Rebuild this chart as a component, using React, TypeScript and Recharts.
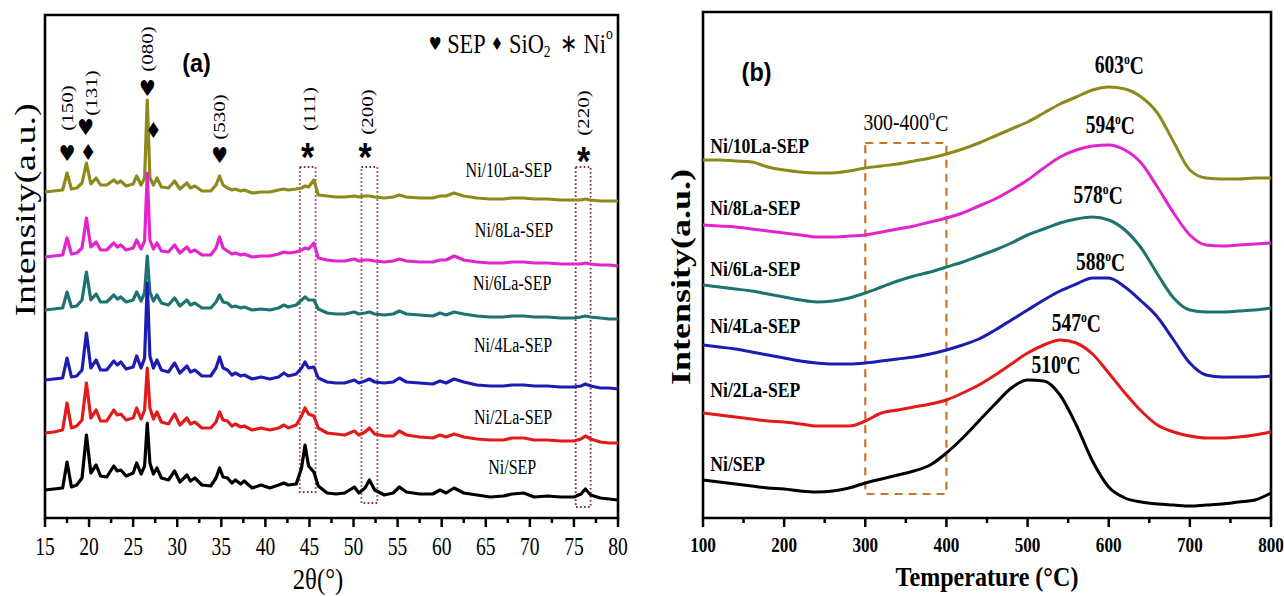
import React from 'react';
import { LineChart, Line, XAxis, YAxis, ReferenceArea, ReferenceDot } from 'recharts';

// ---------- Panel (a): XRD ----------
const twoTheta = [15, 16, 17, 17.5, 18, 18.6, 19.2, 19.7, 20.2, 20.8, 21.3, 22, 22.8, 23.2, 23.6, 24.2, 25, 25.4, 25.9, 26.3, 26.6, 26.9, 27.3, 27.7, 28.2, 29, 29.7, 30.3, 31.1, 31.5, 32, 32.8, 33.8, 34.4, 34.8, 35.2, 35.7, 36.2, 36.6, 37.2, 37.6, 38.5, 39.5, 40.5, 41.5, 42.1, 42.6, 43.5, 44.1, 44.5, 44.9, 45.5, 46, 47, 48, 49, 50.1, 50.6, 51.3, 51.8, 52.4, 53.5, 54.5, 55.2, 56, 57.5, 59, 59.8, 60.5, 61.4, 62.5, 64, 65.5, 67, 68, 69.3, 70.5, 72, 73.5, 75, 75.8, 76.3, 76.9, 78, 79, 80];

const xrdNi10La = [326, 327, 328, 345, 329, 330, 335, 355, 334, 340, 333, 333, 338, 335, 337, 332, 334, 342, 333, 340, 418, 340, 333, 340, 331, 330, 337, 329, 335, 330, 332, 327, 327, 333, 342, 333, 330, 328, 329, 327, 328, 325, 326, 326, 328, 329, 328, 329, 330, 332, 331, 338, 323, 322, 321, 321, 322, 321, 322, 322, 321, 320, 321, 323, 321, 320, 320, 322, 322, 325, 322, 320, 319, 319, 320, 320, 319, 319, 318, 318, 318, 319, 318, 317, 317, 317];
const xrdNi8La = [261, 262, 263, 280, 264, 265, 270, 300, 271, 276, 268, 268, 275, 271, 273, 268, 270, 278, 269, 277, 345, 278, 269, 275, 267, 266, 273, 265, 271, 266, 268, 263, 263, 270, 281, 270, 267, 264, 265, 263, 264, 261, 262, 262, 264, 266, 265, 266, 268, 270, 269, 275, 260, 258, 257, 257, 259, 257, 258, 258, 257, 256, 257, 259, 257, 256, 256, 258, 258, 262, 258, 256, 255, 255, 256, 256, 255, 255, 254, 254, 254, 255, 254, 253, 253, 252];
const xrdNi6La = [208, 209, 210, 226, 211, 212, 218, 246, 218, 224, 216, 216, 223, 219, 221, 216, 218, 226, 217, 225, 262, 226, 217, 223, 215, 213, 220, 212, 218, 213, 215, 210, 210, 216, 223, 216, 215, 211, 212, 210, 211, 208, 209, 208, 210, 213, 211, 213, 218, 221, 218, 218, 209, 205, 204, 204, 206, 204, 205, 206, 204, 203, 204, 207, 204, 203, 202, 205, 203, 206, 204, 202, 201, 201, 202, 202, 201, 201, 200, 200, 201, 202, 201, 200, 199, 199];
const xrdNi4La = [138, 139, 140, 160, 141, 142, 148, 185, 150, 158, 148, 148, 157, 153, 156, 149, 151, 162, 150, 160, 235, 162, 150, 158, 148, 146, 155, 145, 152, 146, 148, 142, 142, 150, 161, 150, 148, 143, 145, 142, 143, 139, 141, 139, 141, 145, 142, 144, 150, 156, 150, 151, 140, 136, 135, 135, 138, 135, 137, 139, 136, 135, 136, 140, 136, 135, 134, 137, 135, 139, 136, 133, 132, 132, 133, 133, 132, 132, 131, 131, 132, 134, 132, 130, 130, 129];
const xrdNi2La = [85, 86, 88, 115, 90, 92, 98, 135, 100, 108, 97, 97, 108, 103, 104, 98, 100, 110, 99, 108, 150, 110, 99, 106, 96, 94, 104, 93, 100, 94, 96, 90, 90, 96, 106, 98, 97, 92, 94, 91, 92, 88, 90, 88, 90, 93, 90, 93, 102, 110, 104, 102, 90, 85, 84, 83, 87, 83, 86, 90, 84, 82, 82, 87, 83, 81, 80, 83, 81, 84, 81, 79, 78, 78, 80, 80, 78, 78, 77, 77, 79, 82, 79, 76, 75, 75];
const xrdNiSEP = [28, 29, 30, 56, 31, 33, 40, 83, 45, 53, 42, 41, 52, 47, 48, 42, 45, 55, 44, 52, 95, 55, 44, 50, 40, 38, 47, 36, 43, 37, 40, 33, 32, 40, 50, 41, 40, 35, 38, 34, 37, 30, 33, 30, 33, 35, 33, 34, 50, 73, 52, 46, 32, 25, 24, 25, 31, 25, 30, 38, 28, 23, 25, 31, 26, 24, 24, 28, 25, 30, 25, 23, 21, 22, 24, 25, 21, 22, 21, 21, 24, 29, 23, 20, 19, 18];

const majorTicksA = [15, 20, 25, 30, 35, 40, 45, 50, 55, 60, 65, 70, 75, 80];
const minorTicksA = [17.5, 22.5, 27.5, 32.5, 37.5, 42.5, 47.5, 52.5, 57.5, 62.5, 67.5, 72.5, 77.5];

const sampleNames = ['Ni/10La-SEP', 'Ni/8La-SEP', 'Ni/6La-SEP', 'Ni/4La-SEP', 'Ni/2La-SEP', 'Ni/SEP'];

// label anchors for panel (a) [2θ, intensity]
const xrdNameX = [67.6, 68.2, 68.0, 68.1, 68.1, 68.0];
const xrdNameY = [348, 288, 235, 173, 101, 51];
const hklLabels = ['(150)', '(131)', '(080)', '(530)', '(111)', '(200)', '(220)'];
const hklX = [17.5, 20.2, 26.6, 34.8, 45.0, 51.6, 76.1];
const hklY = [410, 425, 469, 401, 409, 406, 405];
const markSymbols = ['♥', '♥', '♦', '♥', '♦', '♥', '*', '*', '*'];
const markX = [17.5, 19.6, 19.9, 26.6, 27.3, 34.8, 44.8, 51.3, 76.1];
const markY = [365, 391, 366, 430, 388, 363, 370, 370, 366];
// dotted boxes around Ni peaks
const niBoxX1 = [43.9, 50.9, 75.2];
const niBoxX2 = [45.7, 52.7, 76.9];
const niBoxYLow = [26, 15, 11];
const niBoxYTop = 351;

// ---------- Panel (b): H2-TPR ----------
const temperature = [100, 120, 140, 160, 180, 200, 220, 240, 260, 280, 300, 320, 340, 360, 380, 400, 420, 440, 460, 480, 500, 520, 540, 560, 580, 600, 620, 640, 660, 680, 700, 720, 740, 760, 780, 800];
const tprNi10La = [358, 358, 357, 356, 351, 348, 346, 345, 345, 347, 350, 352, 354, 357, 360, 364, 369, 375, 382, 389, 396, 405, 414, 421, 428, 431, 429, 421, 405, 376, 348, 340, 339, 339, 340, 340];
const tprNi8La = [293, 292, 291, 289, 287, 285, 283, 281, 281, 282, 283, 286, 289, 292, 296, 300, 305, 312, 319, 328, 338, 350, 361, 368, 372, 373, 368, 355, 331, 305, 283, 273, 272, 273, 274, 275];
const tprNi6La = [233, 231, 229, 227, 224, 221, 218, 216, 217, 220, 225, 231, 237, 242, 246, 251, 256, 262, 268, 275, 283, 289, 295, 299, 301, 298, 288, 270, 244, 220, 208, 206, 206, 207, 208, 210];
const tprNi4La = [173, 171, 169, 166, 163, 160, 157, 155, 154, 154, 155, 157, 159, 161, 164, 168, 173, 179, 188, 198, 208, 218, 227, 234, 240, 240, 231, 217, 201, 178, 155, 143, 141, 141, 141, 142];
const tprNi2La = [105, 103, 101, 99, 97, 96, 94, 92, 92, 92, 97, 105, 108, 111, 114, 118, 125, 133, 143, 154, 165, 173, 178, 175, 164, 145, 125, 107, 93, 86, 82, 80, 80, 81, 83, 86];
const tprNiSEP = [38, 36, 34, 32, 30, 29, 27, 26, 27, 30, 35, 39, 43, 47, 53, 65, 80, 97, 114, 130, 138, 137, 123, 93, 57, 31, 20, 16, 14, 13, 12, 13, 14, 16, 18, 25];

const majorTicksB = [100, 200, 300, 400, 500, 600, 700, 800];
const minorTicksB = [150, 250, 350, 450, 550, 650, 750];

const peakTempLabels = ['603', '594', '578', '588', '547', '510'];
const peakLabelX = [613, 602, 587, 590, 560, 535];
const peakLabelY = [453, 393, 323, 256, 195, 153];
const tprNameX = 109;
const tprNameY = [373, 311, 250, 193, 129, 55];

const colors = ['#8d8a1d', '#e224cd', '#1f7272', '#1c1cb2', '#e31a1c', '#000000'];
const keysA = ['a', 'b', 'c', 'd', 'e', 'f'];

const SERIF = '"Liberation Serif", "Times New Roman", serif';
const SANS = '"Liberation Sans", Arial, sans-serif';
const SYM = '"DejaVu Sans", sans-serif';

function SText(props: any) {
  const { x, y, size, weight = 'normal', family = SERIF, anchor = 'middle', rotate = false, sx = 0.8, fill = '#000', children } = props;
  const t = `translate(${x},${y}) scale(${sx},1)` + (rotate ? ' rotate(-90)' : '');
  return (
    <text transform={t} x={0} y={0} fontSize={size} fontWeight={weight} fontFamily={family} textAnchor={anchor} dominantBaseline="central" fill={fill}>
      {children}
    </text>
  );
}

function makeTick(majors: number[], labelDy: number, size: number, weight: string, sx: number) {
  return (props: any) => {
    const { x, y, payload } = props;
    const v = payload.value;
    const isMajor = majors.indexOf(v) >= 0;
    return (
      <g>
        <line x1={x} x2={x} y1={y} y2={y + (isMajor ? 9 : 5)} stroke="#000" strokeWidth={2.5} />
        {isMajor && (
          <SText x={x} y={y + labelDy} size={size} weight={weight} sx={sx}>{v}</SText>
        )}
      </g>
    );
  };
}

function dotText(x: number, y: number, key: string, render: (cx: number, cy: number) => any) {
  return (
    <ReferenceDot key={key} x={x} y={y} r={0} ifOverflow="visible" shape={(p: any) => render(p.cx, p.cy)} />
  );
}

export default function App() {
  const xrdRows = twoTheta.map((t, i) => ({
    t, a: xrdNi10La[i], b: xrdNi8La[i], c: xrdNi6La[i], d: xrdNi4La[i], e: xrdNi2La[i], f: xrdNiSEP[i],
  }));
  const tprRows = temperature.map((t, i) => ({
    t, a: tprNi10La[i], b: tprNi8La[i], c: tprNi6La[i], d: tprNi4La[i], e: tprNi2La[i], f: tprNiSEP[i],
  }));

  return (
    <div style={{ position: 'absolute', left: 0, top: 0, width: 1284, height: 596, background: '#fff' }}>
      <div style={{ position: 'absolute', left: 0, top: 0 }}>
        <LineChart width={650} height={596} data={xrdRows} margin={{ top: 15, right: 32, bottom: 0, left: 0 }}>
          <XAxis
            dataKey="t" type="number" domain={[15, 80]} ticks={[...majorTicksA, ...minorTicksA].sort((p, q) => p - q)}
            interval={0} height={78} tickSize={0} tickMargin={0} tickLine={false} axisLine={false}
            tick={makeTick(majorTicksA, 29, 26, 'normal', 0.75)}
            label={{
              content: (p: any) => (
                <SText x={p.viewBox.x + 273} y={p.viewBox.y + 61} size={29} sx={0.85}>2θ(°)</SText>
              ),
            }}
          />
          <YAxis
            type="number" domain={[0, 503]} width={45} tick={false} tickLine={false} axisLine={false}
            label={{
              content: (p: any) => (
                <SText x={p.viewBox.x + p.viewBox.width - 20} y={p.viewBox.y + 195} size={38} sx={0.75} rotate>Intensity(a.u.)</SText>
              ),
            }}
          />
          {niBoxX1.map((x1, i) => (
            <ReferenceArea key={'box' + i} x1={x1} x2={niBoxX2[i]} y1={niBoxYLow[i]} y2={niBoxYTop} fill="none" fillOpacity={0}
              stroke="#8a2638" strokeWidth={1.8} strokeDasharray="1.6 2.4" ifOverflow="visible" />
          ))}
          {keysA.map((k, i) => (
            <Line key={k} type="linear" dataKey={k} stroke={colors[i]} strokeWidth={3.2} strokeLinejoin="round" dot={false} isAnimationActive={false} />
          ))}
          <ReferenceArea x1={15} x2={80} y1={0} y2={503} fill="none" fillOpacity={0} stroke="#000" strokeWidth={2.6} ifOverflow="visible" />
          {sampleNames.map((n, i) =>
            dotText(xrdNameX[i], xrdNameY[i], 'na' + i, (cx, cy) => <SText x={cx} y={cy} size={20} sx={0.8}>{n}</SText>)
          )}
          {hklLabels.map((h, i) =>
            dotText(hklX[i], hklY[i], 'hkl' + i, (cx, cy) => <SText x={cx} y={cy} size={21} sx={0.8} rotate>{h}</SText>)
          )}
          {markSymbols.map((s, i) =>
            dotText(markX[i], markY[i], 'mk' + i, (cx, cy) =>
              s === '*'
                ? <SText x={cx} y={cy + 9} size={40} weight="bold" family={SANS} sx={0.85}>{s}</SText>
                : <SText x={cx} y={cy} size={22} family={SYM} sx={0.85}>{s}</SText>
            )
          )}
          {dotText(32.2, 455, 'pa', (cx, cy) => <SText x={cx} y={cy} size={26} weight="bold" family={SANS} sx={0.9}>(a)</SText>)}
          {dotText(79.4, 475, 'legend', (cx, cy) => (
            <SText x={cx} y={cy} size={28} sx={0.8} anchor="end">
              <tspan fontSize={18} fontFamily={SYM}>♥</tspan>
              <tspan> SEP </tspan>
              <tspan fontSize={18} fontFamily={SYM}>♦</tspan>
              <tspan> SiO</tspan>
              <tspan fontSize={17} dy={7}>2</tspan>
              <tspan dy={-7} dx={12} fontSize={26}>∗</tspan>
              <tspan> Ni</tspan>
              <tspan fontSize={17} dy={-11}>o</tspan>
            </SText>
          ))}
        </LineChart>
      </div>

      <div style={{ position: 'absolute', left: 650, top: 0 }}>
        <LineChart width={634} height={596} data={tprRows} margin={{ top: 12, right: 13, bottom: 0, left: 0 }}>
          <XAxis
            dataKey="t" type="number" domain={[100, 800]} ticks={[...majorTicksB, ...minorTicksB].sort((p, q) => p - q)}
            interval={0} height={78} tickSize={0} tickMargin={0} tickLine={false} axisLine={false}
            tick={makeTick(majorTicksB, 26, 22, 'bold', 0.78)}
            label={{
              content: (p: any) => (
                <SText x={p.viewBox.x + p.viewBox.width / 2} y={p.viewBox.y + 59} size={28} weight="bold" sx={0.86}>Temperature (°C)</SText>
              ),
            }}
          />
          <YAxis
            type="number" domain={[0, 506]} width={53} tick={false} tickLine={false} axisLine={false}
            label={{
              content: (p: any) => (
                <SText x={p.viewBox.x + p.viewBox.width - 22} y={p.viewBox.y + 265} size={36} weight="bold" sx={0.75} rotate>Intensity(a.u.)</SText>
              ),
            }}
          />
          <ReferenceArea x1={300} x2={400} y1={24} y2={375} fill="none" fillOpacity={0} stroke="#c8762c" strokeWidth={2.2}
            strokeDasharray="8 6" ifOverflow="visible" />
          {keysA.map((k, i) => (
            <Line key={k} type="monotone" dataKey={k} stroke={colors[i]} strokeWidth={3} dot={false} isAnimationActive={false} />
          ))}
          <ReferenceArea x1={100} x2={800} y1={0} y2={506} fill="none" fillOpacity={0} stroke="#000" strokeWidth={2.6} ifOverflow="visible" />
          {sampleNames.map((n, i) =>
            dotText(tprNameX, tprNameY[i], 'nb' + i, (cx, cy) => <SText x={cx} y={cy} size={22} weight="bold" sx={0.8} anchor="start">{n}</SText>)
          )}
          {peakTempLabels.map((l, i) =>
            dotText(peakLabelX[i], peakLabelY[i], 'pk' + i, (cx, cy) => (
              <SText x={cx} y={cy} size={25} weight="bold" sx={0.78}>
                {l}<tspan fontSize={15} dy={-7}>o</tspan><tspan dy={7}>C</tspan>
              </SText>
            ))
          )}
          {dotText(350, 396, 'range', (cx, cy) => (
            <SText x={cx} y={cy} size={24} sx={0.82}>
              300-400<tspan fontSize={15} dy={-7}>o</tspan><tspan dy={7}>C</tspan>
            </SText>
          ))}
          {dotText(166, 446, 'pb', (cx, cy) => <SText x={cx} y={cy} size={26} weight="bold" family={SANS} sx={0.9}>(b)</SText>)}
        </LineChart>
      </div>
    </div>
  );
}
